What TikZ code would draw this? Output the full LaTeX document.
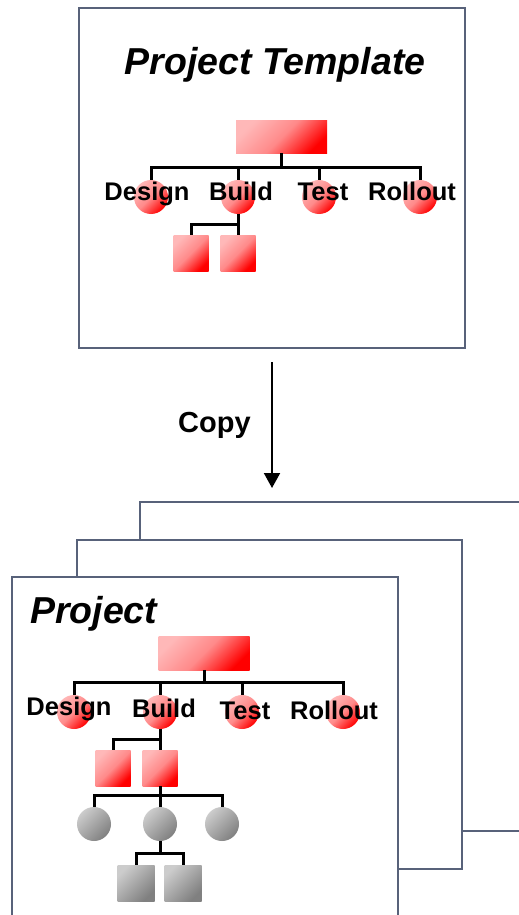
\documentclass[tikz,border=0pt]{standalone}
\usepackage{fontspec}
\setmainfont{Liberation Sans}
\usetikzlibrary{arrows.meta}
\definecolor{slate}{RGB}{88,98,122}
\tikzset{
    >=Stealth,
    org/.style={
        sheet/.append style={draw=slate,line width=2.2pt,fill=white,rectangle,inner sep=0pt},
        head/.append style={inner sep=0pt,font=\fontsize{37.5}{40}\selectfont\bfseries\itshape},
        lbl/.append style={inner sep=0pt,anchor=base,font=\fontsize{25.5}{30}\selectfont\bfseries},
        steplbl/.append style={font=\fontsize{29}{32}\selectfont\bfseries},
        reddish/.append style={top color=red!28,bottom color=red,middle color=red!46,shading angle=45},
        greyish/.append style={top color=gray!40,bottom color=gray,shading angle=45},
        unit/.append style={rectangle,inner sep=0pt,minimum width=91pt,reddish},
        phase/.append style={circle,inner sep=0pt,minimum size=34pt,reddish},
        task/.append style={rectangle,inner sep=0pt,minimum width=35pt,minimum height=36pt,reddish},
        act/.append style={circle,inner sep=0pt,minimum size=34pt,greyish},
        job/.append style={rectangle,inner sep=0pt,minimum width=37pt,minimum height=36pt,greyish},
        link/.append style={draw,line width=3pt},
        copyarrow/.append style={draw,line width=2pt,-{Triangle[width=16pt,length=15pt]}}
    }
}

\begin{document}
\begin{tikzpicture}[org,x=1pt,y=-1pt]
    \useasboundingbox (0,0) rectangle (519,915);
    \clip (0,0) rectangle (519,915);

    % template
    \node[sheet,minimum width=386pt,minimum height=340pt] (tmpl) at (272,178) {};
    \node[head,anchor=base] (ttitle) at (275,75) {Project Template};
    \node[unit,minimum height=32pt] (troot) at (281.5,137) {};
    \node[phase] (tdes) at (151,197) {};
    \node[phase] (tbld) at (238,197) {};
    \node[phase] (ttst) at (319,197) {};
    \node[phase] (trol) at (420,197) {};
    \node[task] (tsa) at (191,253) {};
    \node[task] (tsb) at (238,253) {};
    \draw[link] (troot.south) -- ++(0,14) -| (tdes.north);
    \draw[link] (troot.south) -- ++(0,14) -| (tbld.north);
    \draw[link] (troot.south) -- ++(0,14) -| (ttst.north);
    \draw[link] (troot.south) -- ++(0,14) -| (trol.north);
    \draw[link] (tbld.south) -- ++(0,10) -| (tsa.north);
    \draw[link] (tbld.south) -- (tsb.north);
    \node[lbl] (ldes) at (147,200) {Design};
    \node[lbl] (lbld) at (241,200) {Build};
    \node[lbl] (ltst) at (323,200) {Test};
    \node[lbl] (lrol) at (412,200) {Rollout};

    % copy step
    \coordinate (cs) at (272,362);
    \coordinate (ce) at (272,488);
    \draw[copyarrow] (cs) -- (ce) node[steplbl,midway,left=17pt] (clbl) {Copy};

    % stack of projects
    \node[sheet,minimum width=460pt,minimum height=329pt] (pc) at (370,666.5) {};
    \node[sheet,minimum width=385pt,minimum height=329pt] (pb) at (269.5,704.5) {};
    \node[sheet,minimum width=386pt,minimum height=360pt] (pa) at (205,757) {};
    \node[head,anchor=base west] (ptitle) at (30,623) {Project};

    \node[unit,minimum height=34pt] (proot) at (204,653) {};
    \node[phase] (pdes) at (74,712) {};
    \node[phase] (pbld) at (160,712) {};
    \node[phase] (ptst) at (242,712) {};
    \node[phase] (prol) at (343,712) {};
    \node[task] (psa) at (113,768) {};
    \node[task] (psb) at (160,768) {};
    \node[act] (pga) at (94,824) {};
    \node[act] (pgb) at (160,824) {};
    \node[act] (pgc) at (222,824) {};
    \node[job] (pja) at (136,883) {};
    \node[job] (pjb) at (183,883) {};
    \draw[link] (proot.south) -- ++(0,12) -| (pdes.north);
    \draw[link] (proot.south) -- ++(0,12) -| (pbld.north);
    \draw[link] (proot.south) -- ++(0,12) -| (ptst.north);
    \draw[link] (proot.south) -- ++(0,12) -| (prol.north);
    \draw[link] (pbld.south) -- ++(0,10) -| (psa.north);
    \draw[link] (pbld.south) -- (psb.north);
    \draw[link] (psb.south) -- ++(0,9) -| (pga.north);
    \draw[link] (psb.south) -- (pgb.north);
    \draw[link] (psb.south) -- ++(0,9) -| (pgc.north);
    \draw[link] (pgb.south) -- ++(0,12) -| (pja.north);
    \draw[link] (pgb.south) -- ++(0,12) -| (pjb.north);
    \node[lbl] (mdes) at (69,715) {Design};
    \node[lbl] (mbld) at (164,717) {Build};
    \node[lbl] (mtst) at (245,719) {Test};
    \node[lbl] (mrol) at (334,719) {Rollout};
\end{tikzpicture}
\end{document}
